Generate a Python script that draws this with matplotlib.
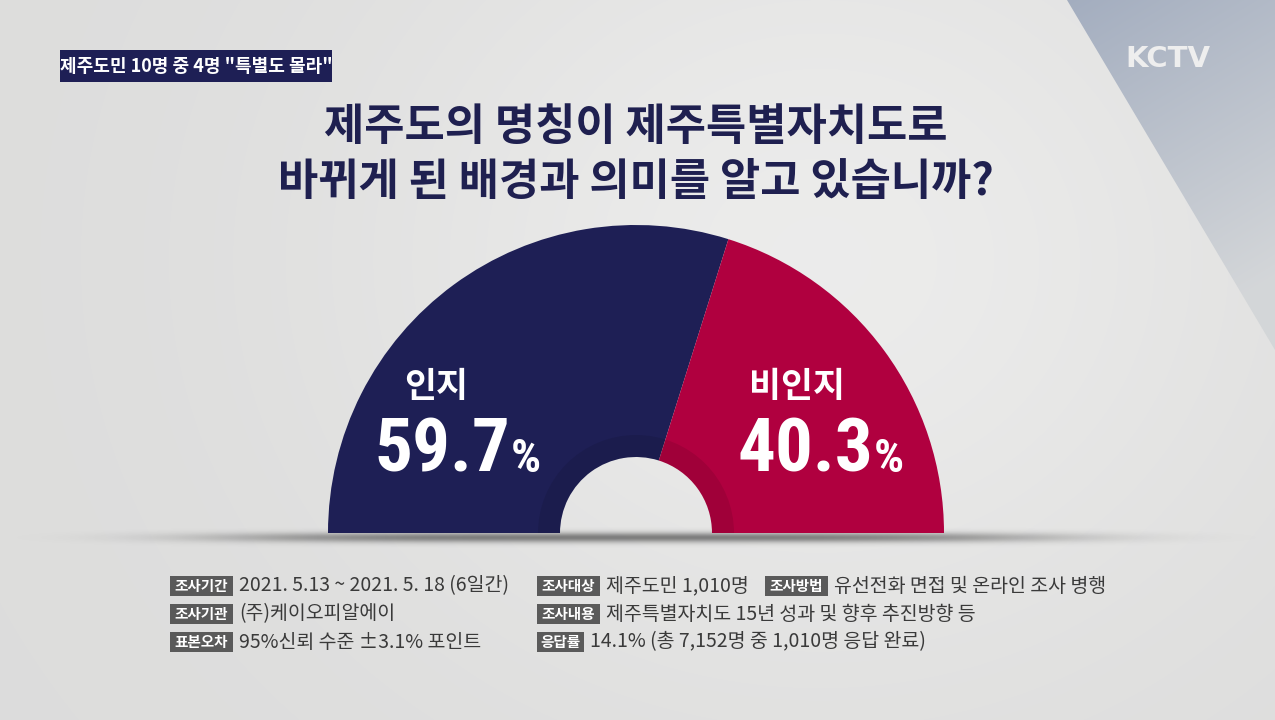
import numpy as np
import matplotlib
matplotlib.use("Agg")
import matplotlib.pyplot as plt
from matplotlib.patches import Wedge, Rectangle, Polygon

plt.rcParams['font.family'] = ['Noto Sans CJK KR', 'DejaVu Sans']

# ---------------- data ----------------
categories = ['인지', '비인지']
values = [59.7, 40.3]
colors = ['#1e1f55', '#b0003f']

headline = '제주도민 10명 중 4명 "특별도 몰라"'
title_lines = ['제주도의 명칭이 제주특별자치도로', '바뀌게 된 배경과 의미를 알고 있습니까?']
logo = 'KCTV'

footer_left_labels = ['조사기간', '조사기관', '표본오차']
footer_left_texts = ['2021. 5.13 ~ 2021. 5. 18 (6일간)', '(주)케이오피알에이', '95%신뢰 수준 ±3.1% 포인트']
footer_right_labels = ['조사대상', '조사내용', '응답률']
footer_right_texts = ['제주도민 1,010명', '제주특별자치도 15년 성과 및 향후 추진방향 등',
                      '14.1% (총 7,152명 중 1,010명 응답 완료)']
footer_extra_label = '조사방법'
footer_extra_text = '유선전화 면접 및 온라인 조사 병행'

# ---------------- figure ----------------
W, H = 1275, 720
fig = plt.figure(figsize=(W / 100, H / 100), dpi=100)
ax = fig.add_axes([0, 0, 1, 1])
ax.set_xlim(0, W)
ax.set_ylim(H, 0)
ax.axis('off')

# background
yy, xx = np.mgrid[0:H, 0:W]
base = 0.865 + 0.06 * np.exp(-(((xx - 820) / 480) ** 2 + ((yy - 260) / 420) ** 2))
bg = np.dstack([base, base, base * 0.997])
ax.imshow(bg, extent=(0, W, H, 0), zorder=0, interpolation='bilinear')

# blue-gray diagonal band
t = np.clip(((xx - 1067) * 0.6 + yy) / 400, 0, 1)
band = np.dstack([0.64 + 0.19 * t, 0.68 + 0.16 * t, 0.75 + 0.10 * t])
im = ax.imshow(band, extent=(0, W, H, 0), zorder=1, interpolation='bilinear')
clip = Polygon([(1067, 0), (1275, 0), (1275, 350)], closed=True, transform=ax.transData)
im.set_clip_path(clip)

# shadow beneath the semicircle
cx, cy = 636, 533
r_out, r_in = 308, 76
sh = np.zeros((H, W, 4))
ax_x = np.exp(-((xx - cx) / 420) ** 4)
ax_y = np.exp(-((yy - 537) / 5.0) ** 2)
sh[..., 3] = 0.45 * ax_x * ax_y
ax.imshow(sh, extent=(0, W, H, 0), zorder=2, interpolation='bilinear')

# semicircle donut
total = sum(values)
start = 180.0
for v, c in zip(values, colors):
    span = 180.0 * v / total
    ax.add_patch(Wedge((cx, cy), r_out, start, start + span, width=r_out - r_in,
                       facecolor=c, edgecolor='none', zorder=3))
    start += span
# darker inner ring
ax.add_patch(Wedge((cx, cy), r_in + 22, 180, 360, width=22, facecolor='black',
                   alpha=0.09, edgecolor='none', zorder=4))

# labels in the donut
num_family = ['Roboto Condensed', 'Liberation Sans Narrow', 'Roboto']
lab_pos = [(436, 386), (797, 386)]
num_right = [510, 873]
for (lx, ly), nx, cat, v in zip(lab_pos, num_right, categories, values):
    ax.text(lx, ly, cat, color='white', fontsize=25, fontweight='bold',
            ha='center', va='center', zorder=5)
    ax.text(nx, 472, f'{v:.1f}', color='white', fontsize=54, fontweight='bold',
            family=num_family, ha='right', va='baseline', zorder=5)
    ax.text(nx + 1, 472, '%', color='white', fontsize=34, fontweight='bold',
            family=num_family, ha='left', va='baseline', zorder=5)

# headline box
ax.add_patch(Rectangle((60, 50), 272, 32, facecolor='#1e1f55', edgecolor='none', zorder=5))
ax.text(196, 66, headline, color='white', fontsize=13, fontweight='bold',
        ha='center', va='center', zorder=6)

# logo
ax.text(1168, 59, logo, color='#eeeeee', fontsize=21, fontweight='bold',
        family=['DejaVu Sans'], ha='center', va='center', zorder=6)

# title
for i, line in enumerate(title_lines):
    ax.text(636, 127 + 55 * i, line, color='#1f2050', fontsize=31.5, fontweight='bold',
            ha='center', va='center', zorder=6)

# footer
def footer_item(x, y, label, text, box_w):
    ax.add_patch(Rectangle((x, y - 10), box_w, 20, facecolor='#5a5a5a', edgecolor='none', zorder=6))
    ax.text(x + box_w / 2, y, label, color='white', fontsize=10.5, fontweight='bold',
            ha='center', va='center', zorder=7)
    ax.text(x + box_w + 6, y, text, color='#3a3a3a', fontsize=14,
            ha='left', va='center', zorder=7)

rows_y = [586, 614, 642]
for y, lab, txt in zip(rows_y, footer_left_labels, footer_left_texts):
    footer_item(170, y, lab, txt, 63)
for y, lab, txt in zip(rows_y, footer_right_labels, footer_right_texts):
    footer_item(537, y, lab, txt, 63 if len(lab) > 3 else 47)
footer_item(765, rows_y[0], footer_extra_label, footer_extra_text, 63)

fig.savefig('out.png', dpi=100)
